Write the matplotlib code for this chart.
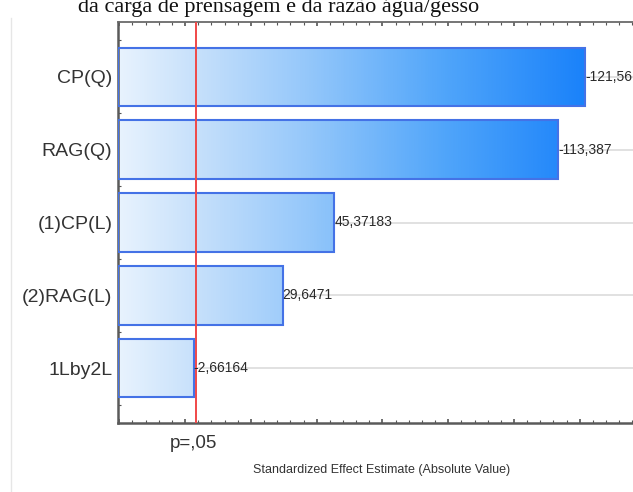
import numpy as np
import matplotlib.pyplot as plt
from matplotlib.colors import LinearSegmentedColormap
from matplotlib.ticker import MultipleLocator, FixedLocator
from matplotlib.lines import Line2D
import matplotlib.transforms as mtransforms

plt.rcParams['font.family'] = ['Liberation Sans', 'DejaVu Sans']

effects = ["CP(Q)", "RAG(Q)", "(1)CP(L)", "(2)RAG(L)", "1Lby2L"]
t_values = [-121.56, -113.387, 45.37183, 29.6471, -2.66164]
value_labels = ["-121,56", "-113,387", "45,37183", "29,6471", "-2,66164"]
p_crit = 3.18
title = "da carga de prensagem e da razão água/gesso"

W, H = 633, 492
fig = plt.figure(figsize=(W / 100, H / 100), dpi=100)
fig.patch.set_facecolor("white")

# axes box in pixels: left 118, top 22, bottom 423, right runs off the image
ax = fig.add_axes([118 / W, 1 - 423 / H, (640 - 118) / W, (423 - 22) / H])
x_min, x_max = -20.4, 138.3

# horizontal guide lines at each effect
for i in range(len(effects)):
    ax.axhline(i, color="#dcdcdc", lw=1.2, zorder=0)

cmap = LinearSegmentedColormap.from_list("eff", [
    (0.0, (232/255, 243/255, 254/255)),
    (0.16, (200/255, 225/255, 251/255)),
    (0.4, (150/255, 200/255, 250/255)),
    (0.7, (80/255, 165/255, 250/255)),
    (1.0, (26/255, 130/255, 250/255)),
])
grad = np.linspace(0, 1, 512).reshape(1, -1)
g_right = max(abs(v) for v in t_values)

height = 0.8
for i, v in enumerate(t_values):
    width = abs(v) - x_min
    bar = ax.barh(i, width, left=x_min, height=height, color="none",
                  edgecolor="#4472e6", linewidth=1.5, zorder=3)[0]
    im = ax.imshow(grad, cmap=cmap, aspect="auto", zorder=2,
                   extent=[x_min, g_right, i + height / 2, i - height / 2])
    im.set_clip_path(bar)
    ax.text(abs(v), i, value_labels[i], ha="left", va="center",
            fontsize=10, color="#2a2a2a", zorder=5)

ax.set_xlim(x_min, x_max)
ax.set_ylim(len(effects) - 0.25, -0.75)

ax.axvline(p_crit, color="#f04848", lw=1.4, zorder=4)

ax.set_yticks(range(len(effects)))
ax.set_yticklabels(effects, fontsize=14, color="#333333")
ax.yaxis.set_minor_locator(FixedLocator([i + 0.5 for i in range(-1, len(effects))]))
ax.xaxis.set_major_locator(MultipleLocator(20))
ax.xaxis.set_minor_locator(MultipleLocator(4))
ax.tick_params(axis="x", which="both", direction="in", top=True, bottom=True,
               labelbottom=False, color="#555555")
ax.tick_params(axis="x", which="major", length=3, width=1.2)
ax.tick_params(axis="x", which="minor", length=2, width=0.8)
ax.tick_params(axis="y", which="both", direction="in", color="#555555", pad=4)
ax.tick_params(axis="y", which="major", length=3, width=1.0)
ax.tick_params(axis="y", which="minor", length=2, width=0.8)

for side in ["left", "bottom"]:
    ax.spines[side].set_color("#5a5a5a")
    ax.spines[side].set_linewidth(1.8)
ax.spines["top"].set_color("#6a6a6a")
ax.spines["top"].set_linewidth(1.3)
ax.spines["right"].set_visible(False)

# significance label under the reference line
trans = mtransforms.blended_transform_factory(ax.transData, fig.transFigure)
ax.text(p_crit - 0.6, 1 - 443 / H, "p=,05", transform=trans, ha="center", va="center",
        fontsize=13.5, color="#333333")

fig.text(382 / W, 1 - 470 / H, "Standardized Effect Estimate (Absolute Value)",
         ha="center", va="center", fontsize=9, color="#333333")

fig.text(279 / W, 1 - 12 / H, title, ha="center", va="baseline",
         fontsize=16, family="Liberation Serif", color="#111111")

fig.add_artist(Line2D([11 / W, 11 / W], [0, 1 - 18 / H], transform=fig.transFigure,
                      color="#e6e6e6", lw=1))

fig.savefig("out.png", dpi=100)
